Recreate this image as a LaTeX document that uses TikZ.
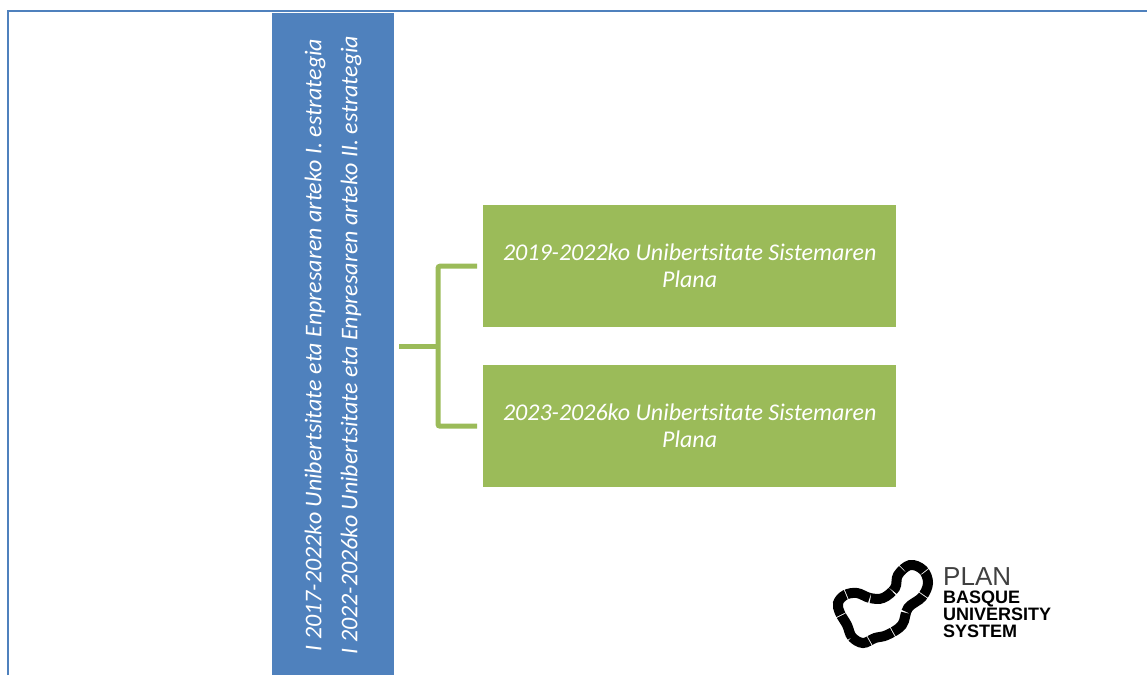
\documentclass[tikz,border=0pt]{standalone}
\usepackage{fontspec}
\setmainfont{Carlito}
\usepackage{xcolor}
\usetikzlibrary{positioning}
\definecolor{planblue}{HTML}{4F81BD}
\definecolor{plangreen}{HTML}{9BBB59}
\newfontfamily\logofont{Liberation Sans}
\tikzstyle{spine} = [rectangle, minimum width=122pt, minimum height=662pt, fill=planblue, inner sep=0pt]
\tikzstyle{planbox} = [rectangle, minimum width=413pt, minimum height=122pt, align=center, fill=plangreen, text=white, font=\itshape\fontsize{24}{27}\selectfont, inner sep=0pt]
\tikzstyle{spinetext} = [text=white, rotate=90, font=\itshape\fontsize{24}{27}\selectfont, anchor=center, inner sep=0pt]
\tikzstyle{branch} = [draw=plangreen, line width=5pt]
\tikzstyle{logotext} = [font=\logofont\bfseries\fontsize{18}{17}\selectfont, text=black, align=left, inner sep=0pt]
\begin{document}
\begin{tikzpicture}[x=1pt,y=-1pt]
\useasboundingbox (0,0) rectangle (1147,675);

\draw [planblue, line width=2pt] (7.5,675) -- (7.5,11) -- (1147,11);

\node (spine) [spine, anchor=north west] at (272,13) {};
\node (text1) [spinetext] at (315,345) {I 2017-2022ko Unibertsitate eta Enpresaren arteko I. estrategia};
\node (text2) [spinetext] at (351,345) {I 2022-2026ko Unibertsitate eta Enpresaren arteko II. estrategia};

\node (plan1) [planbox, anchor=north west] at (483,205) {2019-2022ko Unibertsitate Sistemaren\\Plana};
\node (plan2) [planbox, anchor=north west] at (483,365) {2023-2026ko Unibertsitate Sistemaren\\Plana};

\coordinate (root) at (399,346);
\coordinate (fork) at (438,346);
\coordinate (end1) at ([xshift=-6pt]plan1.west);
\coordinate (end2) at ([xshift=-6pt]plan2.west);
\draw [branch] (root) -- (fork);
\draw [branch, rounded corners=2pt] (end1) -- (fork |- end1) -- (fork |- end2) -- (end2);

% logo
\draw [line width=10pt, black, dash pattern=on 24pt off 1pt] plot [smooth cycle, tension=.6] coordinates {(863,643) (852,637) (847,625) (840,613) (838,603) (845,595) (857,593) (870,598) (883,598) (895,588) (898,575) (910,565) (923,570) (928,583) (922,597) (908,608) (902,625) (887,635) (875,638)};
\node (plantext) [font=\logofont\fontsize{26}{26}\selectfont, text=black!75, anchor=base west, inner sep=0pt] at (943,585) {PLAN};
\node (logotext) [logotext, anchor=north west] at (943,591) {BASQUE\\UNIVERSITY\\SYSTEM};
\end{tikzpicture}
\end{document}
